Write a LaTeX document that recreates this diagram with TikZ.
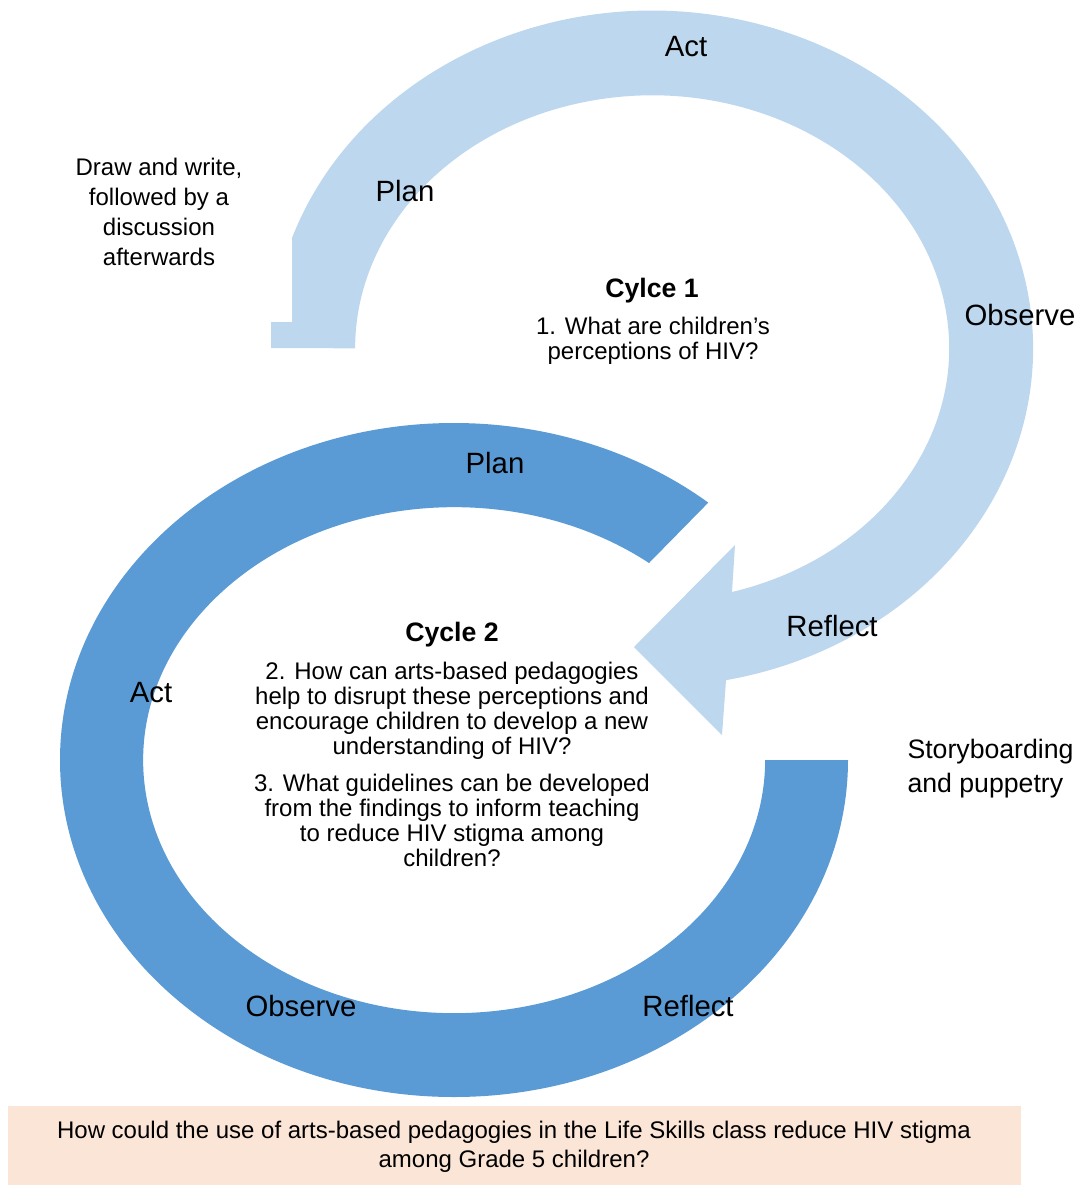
\documentclass[tikz,border=0pt]{standalone}
\usepackage{fontspec}
\setmainfont{Liberation Sans}

\definecolor{cycOne}{RGB}{189,215,238}
\definecolor{cycTwo}{RGB}{91,155,213}
\definecolor{boxPeach}{RGB}{251,229,214}

\tikzset{every picture/.style={line width=0.75pt}}
\tikzset{
  stage/.style={inner sep=0.75pt, font=\fontsize{22}{26}\selectfont},
  title/.style={inner sep=0.75pt, font=\fontsize{20}{24}\selectfont\bfseries},
  note/.style={inner sep=0.75pt, align=center, font=\fontsize{18}{22.5}\selectfont},
  quest/.style={inner sep=0.75pt, align=center, font=\fontsize{18}{18.75}\selectfont},
}

\begin{document}
\begin{tikzpicture}[x=0.75pt,y=0.75pt,yscale=-1,xscale=1]
\useasboundingbox (0,0) rectangle (1079,1185);

%Shape: Rectangle [research question]
\fill [boxPeach] (8,1106) rectangle (1021,1185);

%Shape: Block Arc [cycle 2]
\fill [cycTwo] (848,760) arc [start angle=0, end angle=310.2, x radius=394, y radius=337] -- (649,563) arc [start angle=308.8, end angle=0, x radius=311, y radius=253] -- cycle;

%Shape: Curved Arrow [cycle 1]
\fill [cycOne] (271,348) -- (271,322) -- (292,322) -- (292,238) arc [start angle=199.1, end angle=438.8, x radius=381, y radius=338] -- (722,735) -- (634,647) -- (735,545) -- (732,592) arc [start angle=434.4, end angle=180, x radius=297, y radius=253] -- cycle;

% Text Node
\node [stage] (act1) at (686,47) {Act};
% Text Node
\node [stage] (plan1) at (405,191) {Plan};
% Text Node
\node [stage] (obs1) at (1020,315) {Observe};
% Text Node
\node [stage] (refl1) at (832,626) {Reflect};
% Text Node
\node [note] (method1) at (159,212) {Draw and write,\\followed by a\\discussion\\afterwards};
% Text Node
\node [title] (cyc1) at (652,291) {Cylce 1};
% Text Node
\node [quest] (q1) at (653,341) {1. What are children’s\\perceptions of HIV?};

% Text Node
\node [stage] (plan2) at (495,463) {Plan};
% Text Node
\node [stage] (act2) at (151,693) {Act};
% Text Node
\node [stage] (obs2) at (301,1006) {Observe};
% Text Node
\node [stage] (refl2) at (688,1006) {Reflect};
% Text Node
\node [title] (cyc2) at (452,635) {Cycle 2};
% Text Node
\node [quest] (q2) at (452,711) {2. How can arts-based pedagogies\\help to disrupt these perceptions and\\encourage children to develop a new\\understanding of HIV?};
% Text Node
\node [quest] (q3) at (452,820) {3. What guidelines can be developed\\from the findings to inform teaching\\to reduce HIV stigma among\\children?};
% Text Node
\node [inner sep=0.75pt, align=left, anchor=west, font=\fontsize{20}{25.5}\selectfont] (method2) at (906,769) {Storyboarding\\and puppetry};

% Text Node
\node [inner sep=0.75pt, align=center, font=\fontsize{18}{21.75}\selectfont] (rq) at (514,1147) {How could the use of arts-based pedagogies in the Life Skills class reduce HIV stigma\\among Grade 5 children?};

\end{tikzpicture}
\end{document}
